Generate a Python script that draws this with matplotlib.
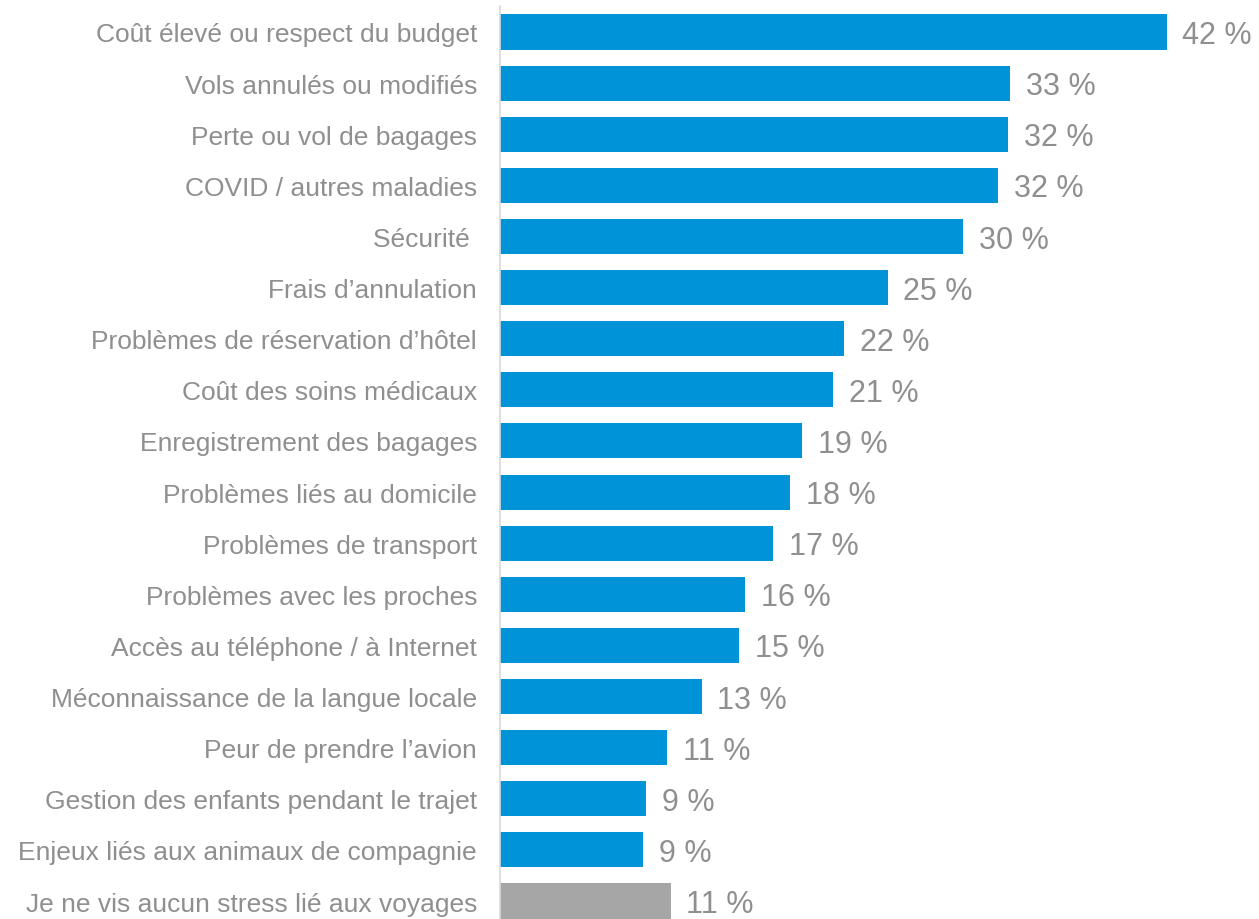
import matplotlib
matplotlib.use("Agg")
import matplotlib.pyplot as plt

categories = [
    "Coût élevé ou respect du budget",
    "Vols annulés ou modifiés",
    "Perte ou vol de bagages",
    "COVID / autres maladies",
    "Sécurité ",
    "Frais d’annulation",
    "Problèmes de réservation d’hôtel",
    "Coût des soins médicaux",
    "Enregistrement des bagages",
    "Problèmes liés au domicile",
    "Problèmes de transport",
    "Problèmes avec les proches",
    "Accès au téléphone / à Internet",
    "Méconnaissance de la langue locale",
    "Peur de prendre l’avion",
    "Gestion des enfants pendant le trajet",
    "Enjeux liés aux animaux de compagnie",
    "Je ne vis aucun stress lié aux voyages",
]
values = [43.0, 32.9, 32.8, 32.1, 29.9, 25.0, 22.2, 21.5, 19.5, 18.7,
          17.6, 15.8, 15.4, 13.0, 10.8, 9.4, 9.2, 11.0]
value_labels = ["42 %", "33 %", "32 %", "32 %", "30 %", "25 %", "22 %", "21 %",
                "19 %", "18 %", "17 %", "16 %", "15 %", "13 %", "11 %", "9 %",
                "9 %", "11 %"]
bar_colors = ["#0093D7"] * 17 + ["#A6A6A6"]

plt.rcParams['font.family'] = ['Liberation Sans', 'DejaVu Sans']

W, H = 1259, 920
fig = plt.figure(figsize=(W / 100, H / 100), dpi=100)

left_px = 500
top_px = 33 - 25.56
bottom_px = 902 + 25.56
ax = fig.add_axes([left_px / W, (H - bottom_px) / H, 1 - left_px / W, (bottom_px - top_px) / H])

y = list(range(len(categories)))
ax.barh(y, values, height=0.685, color=bar_colors)
ax.set_ylim(len(categories) - 0.5, -0.5)
ax.set_xlim(0, (W - left_px) / 15.5)

ax.set_yticks(y)
ax.set_yticklabels(categories, fontsize=19, color="#8F8F8F")
ax.tick_params(axis='y', length=0, pad=16.5)
ax.set_xticks([])

for s in ["top", "right", "bottom"]:
    ax.spines[s].set_visible(False)
ax.spines["left"].set_color("#D9D9D9")
ax.spines["left"].set_linewidth(1.2)

for yi, v, lab in zip(y, values, value_labels):
    ax.annotate(lab, xy=(v, yi), xytext=(11.5, -2.2), textcoords="offset points",
                ha="left", va="center", fontsize=22, color="#8F8F8F")

fig.savefig("out.png", dpi=100)
